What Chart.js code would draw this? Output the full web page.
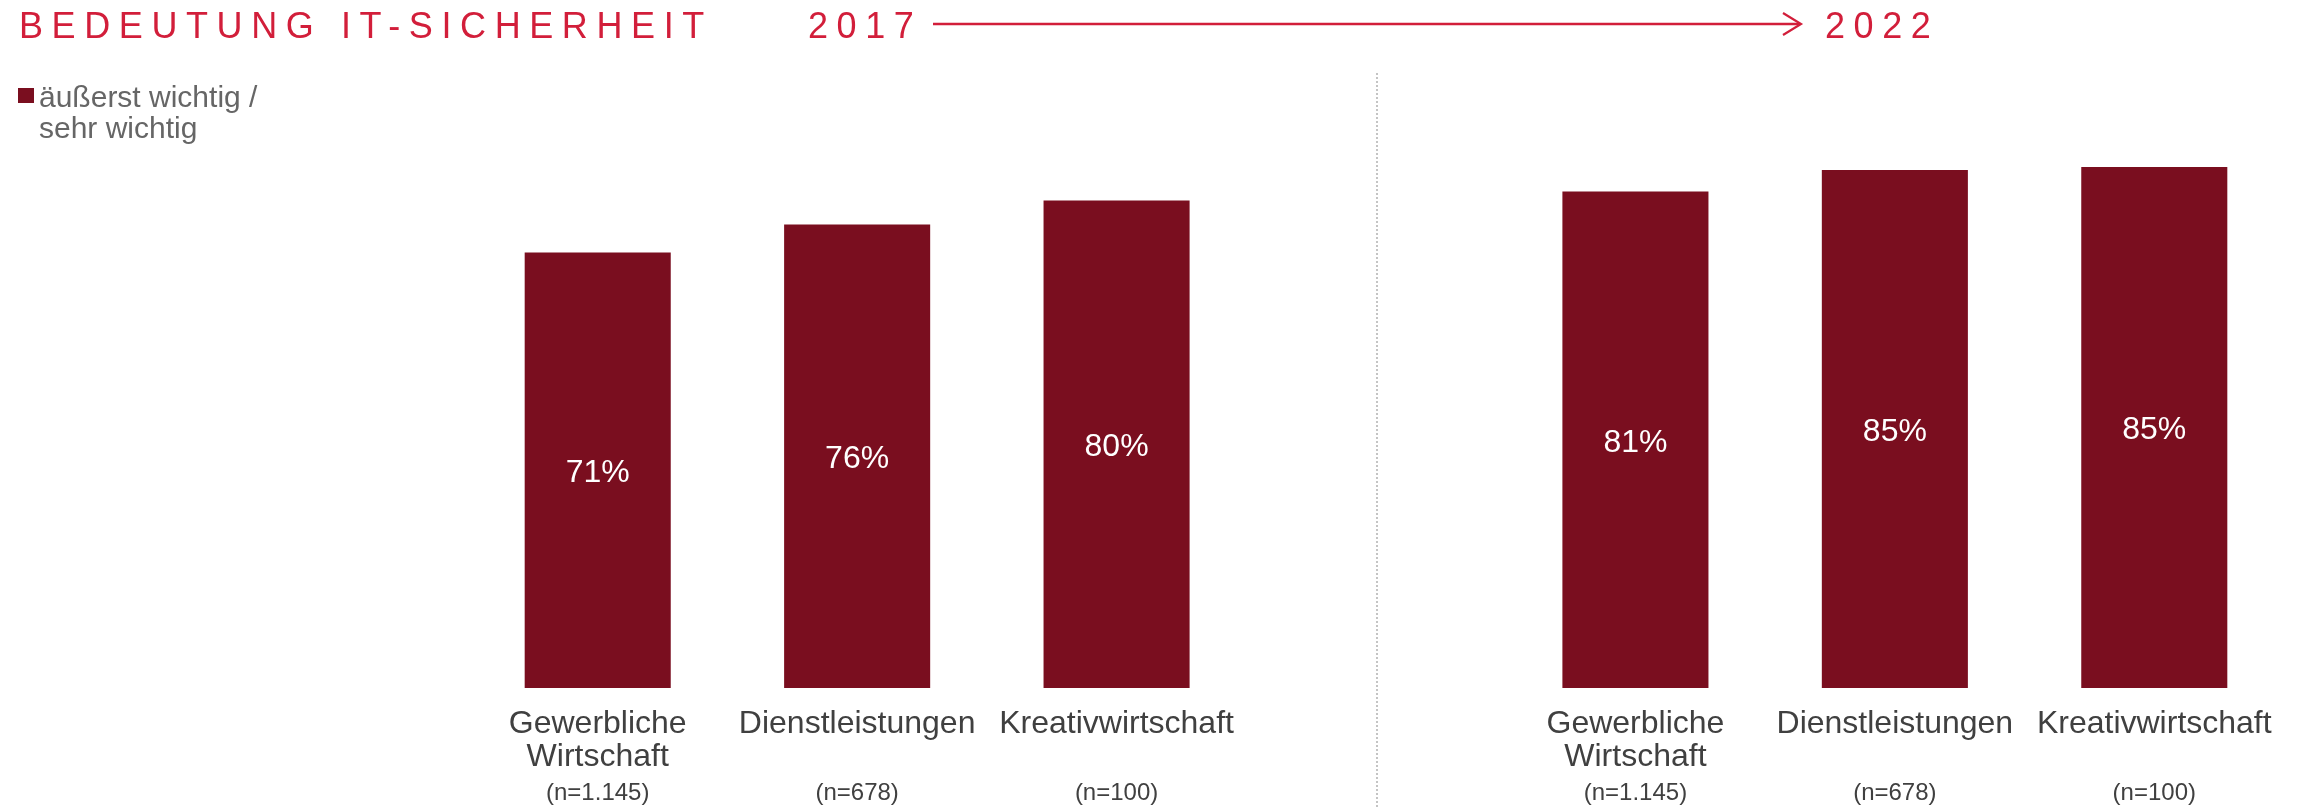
<!DOCTYPE html>
<html lang="de">
<head>
<meta charset="utf-8">
<title>Bedeutung IT-Sicherheit 2017 – 2022</title>
<script src="https://cdn.jsdelivr.net/npm/chart.js@4.4.1/dist/chart.umd.min.js"></script>
<style>
  html, body { margin: 0; padding: 0; background: #fff; }
  #wrap { position: relative; width: 2306px; height: 808px; overflow: hidden; }
  #wrap canvas { position: absolute; left: 0; top: 0; }
  .head {
    position: absolute;
    font-family: "Liberation Sans", Arial, sans-serif;
    font-size: 36px;
    line-height: 36px;
    letter-spacing: 8.6px;
    color: #d21e3a;
    white-space: nowrap;
  }
  #legend {
    position: absolute;
    left: 18px;
    top: 81px;
    font-family: "Liberation Sans", Arial, sans-serif;
    font-size: 30px;
    line-height: 31px;
    color: #666666;
  }
  #legend .box {
    position: absolute;
    left: 0;
    top: 7px;
    width: 16px;
    height: 15px;
    background: #7a0e1f;
  }
  #legend .text { margin-left: 21px; }
</style>
</head>
<body>
<div id="wrap">
  <canvas id="chart" width="2306" height="808"></canvas>
  <div class="head" style="left:19px; top:8px;">BEDEUTUNG IT-SICHERHEIT</div>
  <div class="head" style="left:808px; top:8px;">2017</div>
  <div class="head" style="left:1825px; top:8px;">2022</div>
  <div id="legend"><span class="box"></span><div class="text">äußerst wichtig /<br>sehr wichtig</div></div>
</div>
<script>
// categories (the empty slot in the middle separates 2017 and 2022)
const categories = [
  ["Gewerbliche", "Wirtschaft"], "Dienstleistungen", "Kreativwirtschaft",
  "",
  ["Gewerbliche", "Wirtschaft"], "Dienstleistungen", "Kreativwirtschaft"
]
const sampleSizes = ["(n=1.145)", "(n=678)", "(n=100)", "", "(n=1.145)", "(n=678)", "(n=100)"]

// share "äußerst wichtig / sehr wichtig" in percent
const values2017 = [71.4, 76.0, 79.9]
const values2022 = [81.4, 84.9, 85.4]

const barColor = "#7a0e1f"
const red = "#d21e3a"

Chart.defaults.font.family = "'Liberation Sans', Arial, sans-serif"

// percent labels inside the bars, divider and timeline arrow
const decorations = {
  id: "decorations",
  afterDatasetsDraw(chart) {
    const ctx = chart.ctx
    const meta = chart.getDatasetMeta(0)
    ctx.save()
    ctx.fillStyle = "#ffffff"
    ctx.font = "32px 'Liberation Sans', Arial, sans-serif"
    ctx.textAlign = "center"
    ctx.textBaseline = "middle"
    meta.data.forEach((bar, i) => {
      const v = chart.data.datasets[0].data[i]
      if (v == null) return
      ctx.fillText(Math.round(v) + "%", bar.x, (bar.y + bar.base) / 2 + 3)
    })
    ctx.restore()
  },
  afterDraw(chart) {
    const ctx = chart.ctx
    const x = chart.scales.x.getPixelForValue(3)
    ctx.save()
    // dotted divider between the two years
    ctx.strokeStyle = "#c4c4c4"
    ctx.lineWidth = 2
    ctx.setLineDash([2, 2])
    ctx.beginPath()
    ctx.moveTo(Math.round(x) + 1, 73)
    ctx.lineTo(Math.round(x) + 1, chart.height)
    ctx.stroke()
    // arrow 2017 -> 2022
    ctx.setLineDash([])
    ctx.strokeStyle = red
    ctx.lineWidth = 2.5
    ctx.beginPath()
    ctx.moveTo(933, 24)
    ctx.lineTo(1800, 24)
    ctx.stroke()
    ctx.lineWidth = 2.2
    ctx.beginPath()
    ctx.moveTo(1783, 13)
    ctx.lineTo(1801, 24)
    ctx.lineTo(1783, 35)
    ctx.stroke()
    ctx.restore()
  }
}

const chart = new Chart(document.getElementById("chart"), {
  type: "bar",
  data: {
    labels: categories,
    datasets: [{
      label: "äußerst wichtig / sehr wichtig",
      data: [...values2017, null, ...values2022],
      backgroundColor: barColor,
      borderWidth: 0,
      barPercentage: 0.563,
      categoryPercentage: 1
    }]
  },
  options: {
    responsive: false,
    animation: false,
    layout: { padding: { left: 468, right: 22, top: 78, bottom: 0 } },
    plugins: {
      legend: { display: false },
      tooltip: { enabled: false },
      title: { display: false }
    },
    scales: {
      y: { display: false, min: 0, max: 100 },
      x: {
        weight: 0,
        grid: { display: false, drawTicks: false },
        border: { display: false },
        ticks: {
          color: "#404040",
          font: { size: 32, lineHeight: 1.03 },
          padding: 20,
          maxRotation: 0,
          minRotation: 0,
          autoSkip: false
        },
        afterFit(scale) { scale.height = 85 }
      },
      x2: {
        type: "category",
        labels: sampleSizes,
        position: "bottom",
        offset: true,
        weight: 1,
        grid: { display: false, drawTicks: false },
        border: { display: false },
        ticks: {
          color: "#404040",
          font: { size: 24, lineHeight: 1.2 },
          padding: 6,
          maxRotation: 0,
          minRotation: 0,
          autoSkip: false
        },
        afterFit(scale) { scale.height = 35 }
      }
    }
  },
  plugins: [decorations]
})
</script>
</body>
</html>
